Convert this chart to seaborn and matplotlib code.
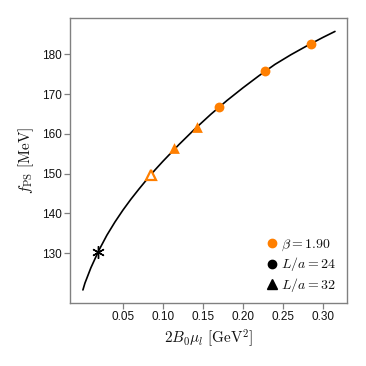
import matplotlib
matplotlib.use("Agg")
import matplotlib.pyplot as plt
from matplotlib.lines import Line2D
import seaborn as sns

# fit curve
curve_x = [0.0, 0.0025, 0.005, 0.01, 0.02, 0.03, 0.04, 0.05, 0.06, 0.07, 0.08, 0.09, 0.10,
           0.12, 0.14, 0.16, 0.18, 0.20, 0.22, 0.24, 0.26, 0.28, 0.30, 0.315]
curve_y = [120.7, 122.4, 123.7, 126.3, 130.7, 134.5, 137.8, 140.8, 143.55, 146.1, 148.55, 150.9, 153.1,
           157.3, 161.26, 164.96, 168.4, 171.6, 174.64, 177.5, 179.94, 182.18, 184.3, 185.8]

# L/a = 24 (circles)
l24_x = [0.1704, 0.2275, 0.2846]
l24_y = [166.8, 175.8, 182.6]
# L/a = 32 (filled triangles)
l32_x = [0.1138, 0.142]
l32_y = [156.4, 161.7]
# open triangle
open_x = [0.0845]
open_y = [149.6]
# physical point
phys_x = [0.0188]
phys_y = [130.3]

xticks = [0.05, 0.10, 0.15, 0.20, 0.25, 0.30]
xticklabels = ["0.05", "0.10", "0.15", "0.20", "0.25", "0.30"]
yticks = [130, 140, 150, 160, 170, 180]

orange = "#ff7f00"

sns.set_style("white")
plt.rcParams["font.family"] = ["Liberation Sans", "DejaVu Sans"]
plt.rcParams["mathtext.fontset"] = "cm"

fig = plt.figure(figsize=(3.66, 3.66), dpi=100)
ax = fig.add_axes([0.191, 0.172, 0.757, 0.779])

sns.lineplot(x=curve_x, y=curve_y, ax=ax, color="black", linewidth=1.2, sort=True)
sns.scatterplot(x=l24_x, y=l24_y, ax=ax, marker="o", color=orange, s=50, edgecolor=orange, linewidth=0, zorder=3)
sns.scatterplot(x=l32_x, y=l32_y, ax=ax, marker="^", color=orange, s=60, edgecolor=orange, linewidth=0, zorder=3)
ax.plot(open_x, open_y, marker="^", markersize=7.5, markerfacecolor="white",
        markeredgecolor=orange, markeredgewidth=1.6, linestyle="none", zorder=3)
ax.plot(phys_x, phys_y, marker=(6, 2, 0), markersize=9, color="black",
        markeredgewidth=1.0, linestyle="none", zorder=4)

ax.set_xlim(-0.01625, 0.33)
ax.set_ylim(117.4, 189.2)
ax.set_xticks(xticks)
ax.set_xticklabels(xticklabels)
ax.set_yticks(yticks)

for sp in ax.spines.values():
    sp.set_color("#808080")
    sp.set_linewidth(1.0)
ax.tick_params(axis="both", which="major", direction="out", length=4, width=0.9,
               color="#808080", labelcolor="#111111", labelsize=8.5, bottom=True, left=True, pad=2)

ax.set_xlabel(r"$2B_0\mu_l\ [\mathrm{GeV}^2]$", fontsize=11, labelpad=3, color="#111111")
ax.set_ylabel(r"$f_{\mathrm{PS}}\ [\mathrm{MeV}]$", fontsize=11, labelpad=4, color="#111111")

handles = [
    Line2D([], [], marker="o", color=orange, linestyle="none", markersize=6),
    Line2D([], [], marker="o", color="black", linestyle="none", markersize=6),
    Line2D([], [], marker="^", color="black", linestyle="none", markersize=7),
]
labels = [r"$\beta = 1.90$", r"$L/a = 24$", r"$L/a = 32$"]
leg = ax.legend(handles, labels, loc="lower right", bbox_to_anchor=(1.0, -0.008), frameon=False,
                fontsize=10, handletextpad=0.15, labelspacing=0.2, handlelength=1.0, borderpad=0.3)
for t in leg.get_texts():
    t.set_color("#111111")

fig.savefig("out.png", dpi=100)
